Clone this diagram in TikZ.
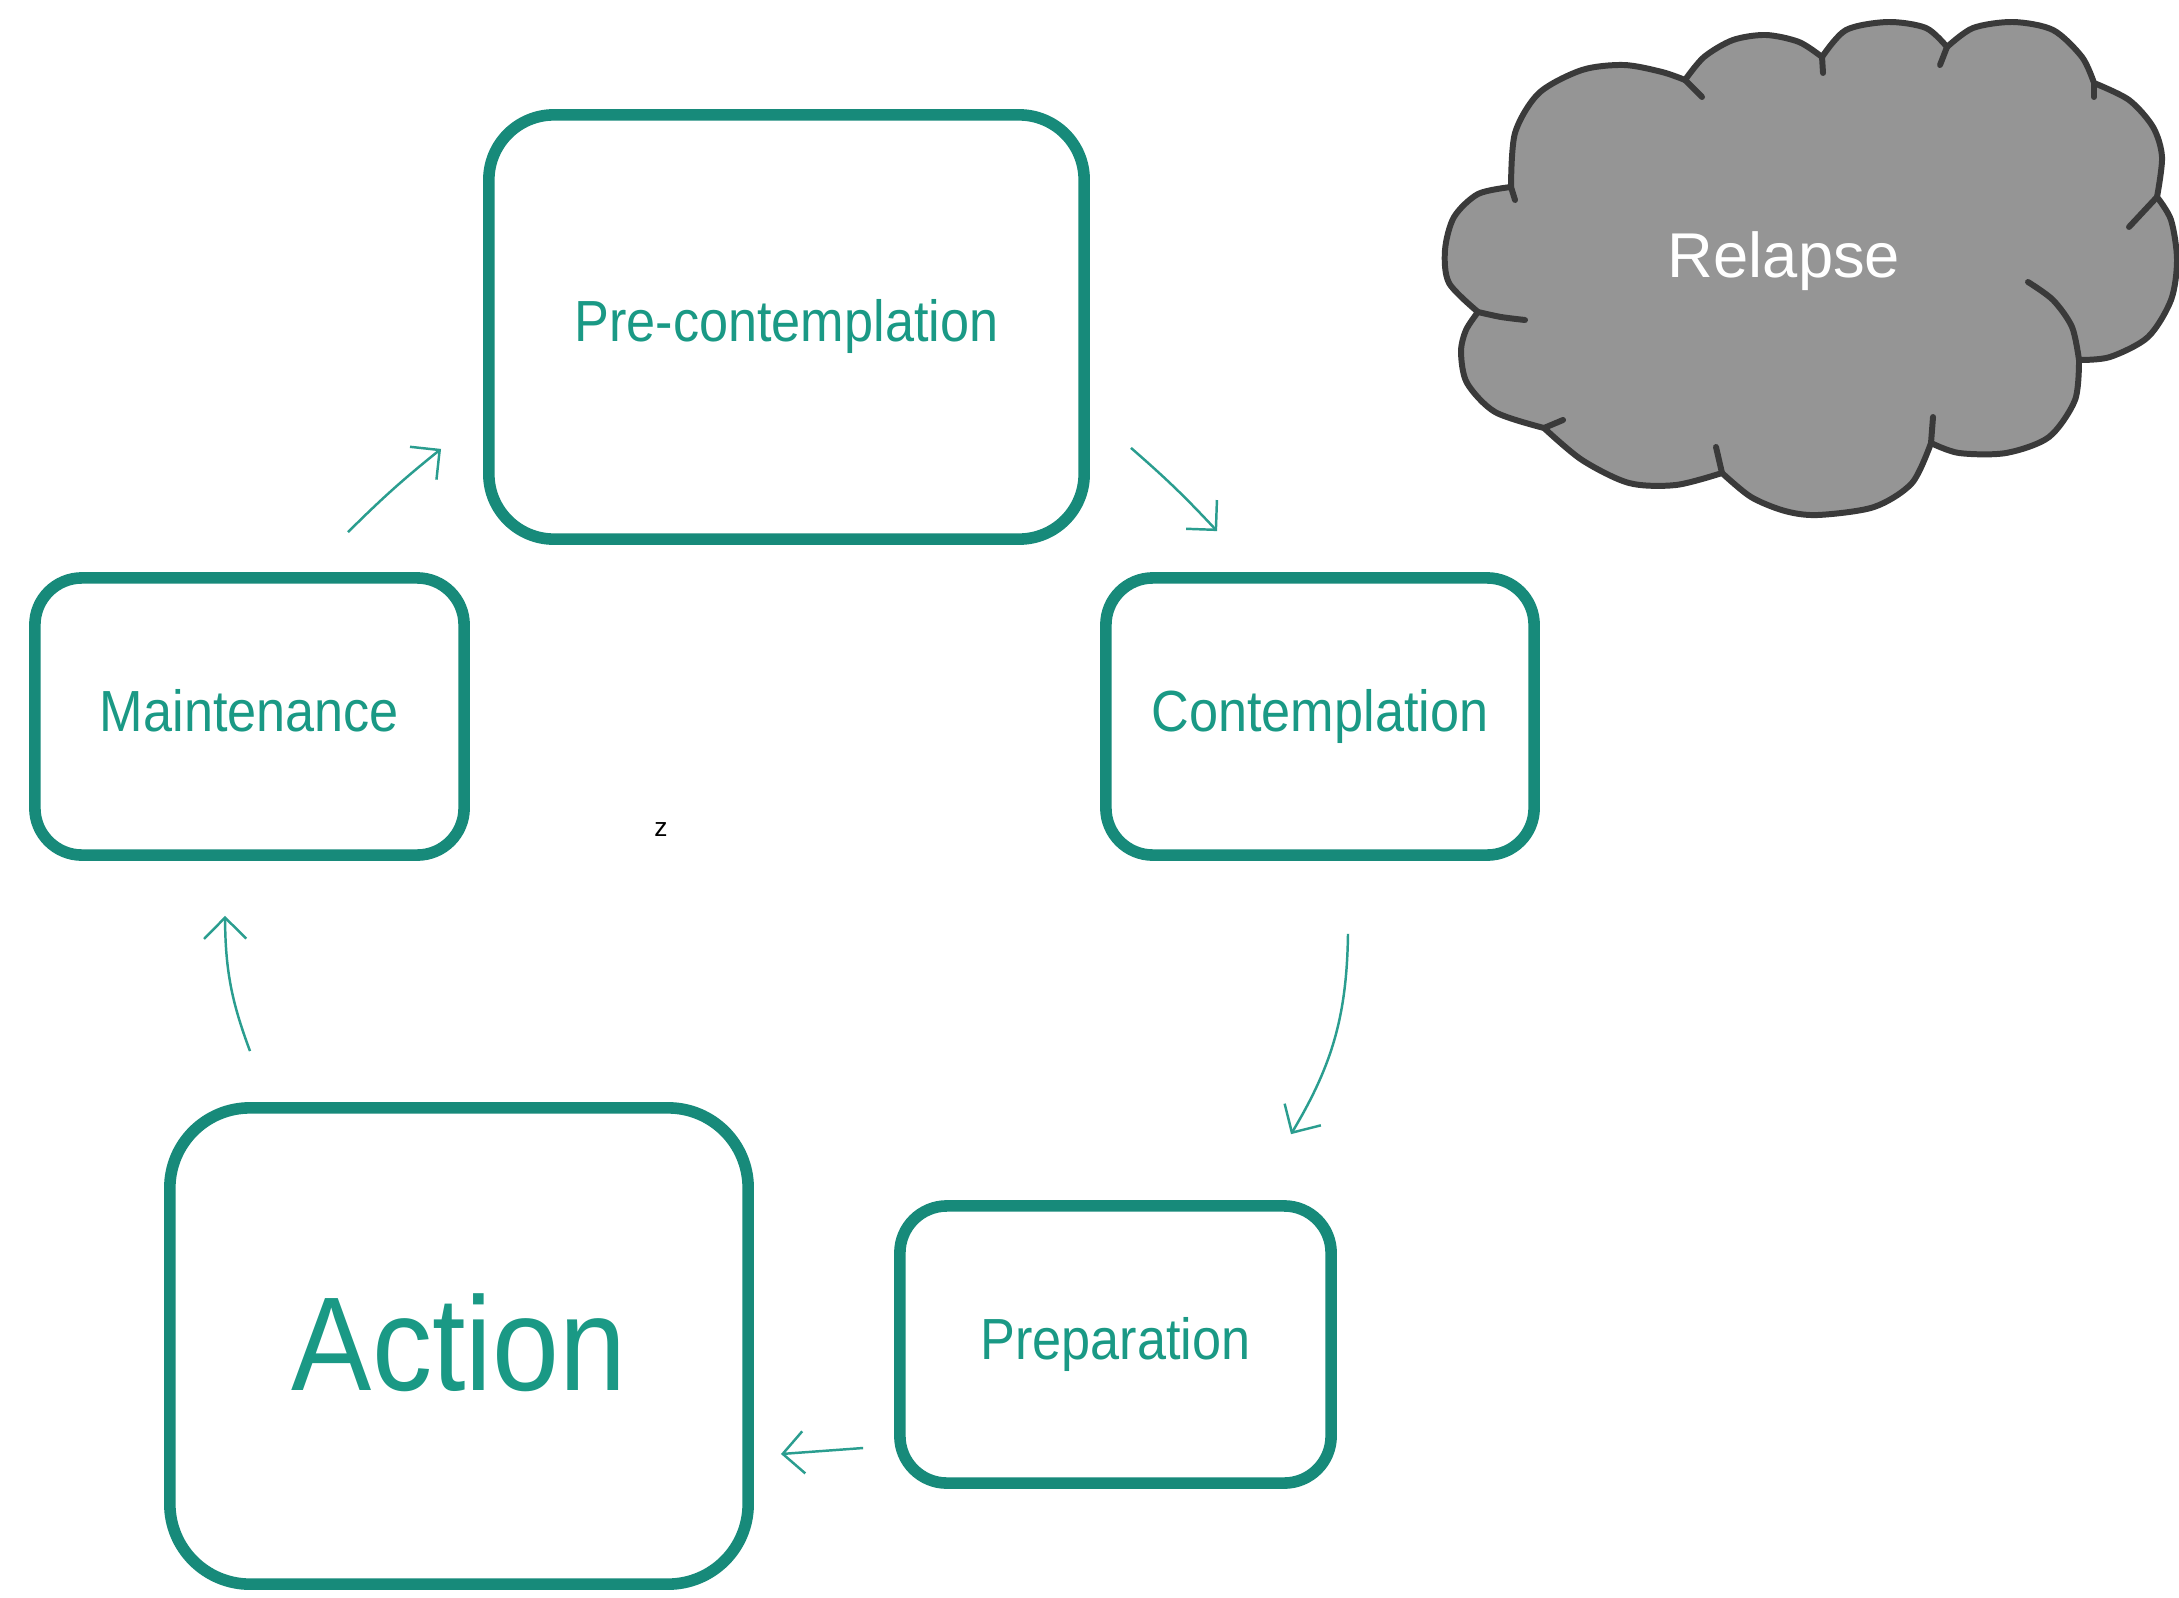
\documentclass[tikz,border=0pt]{standalone}
\usepackage{fontspec}
\setmainfont{Liberation Sans}
\newfontfamily\narrowsf{Liberation Sans}[FakeStretch=0.9]
\usetikzlibrary{arrows.meta,shadows}
\definecolor{tealline}{HTML}{178A7A}
\definecolor{tealtxt}{HTML}{1A9985}
\definecolor{tealarr}{HTML}{2A9D8F}
\definecolor{cloudfill}{HTML}{959595}
\definecolor{cloudline}{HTML}{3A3A3A}
\begin{document}
\begin{tikzpicture}[x=0.01cm,y=-0.01cm,
  stage/.style={draw=tealline, line width=3.3pt, fill=white, inner sep=0pt,
    text=tealtxt, font=\narrowsf\fontsize{16.5}{18}\selectfont,
    text height=11.9pt, text depth=3.5pt,
    drop shadow={shadow xshift=0.8pt, shadow yshift=-1.3pt, opacity=0.22}},
  arr/.style={draw=tealarr, line width=0.7pt, -{Straight Barb[length=6pt,width=12pt]}},
  cloudedge/.style={draw=cloudline, line width=1.7pt, line cap=round, line join=round}]
\useasboundingbox[fill=white] (0,0) rectangle (2179,1597);

% stages
\node[stage, minimum width=5.95cm, minimum height=4.24cm, rounded corners=0.65cm] (pre) at (786.5,327) {Pre-contemplation};
\node[stage, minimum width=4.29cm, minimum height=2.77cm, rounded corners=0.47cm] (maint) at (249.5,716.5) {Maintenance};
\node[stage, minimum width=4.28cm, minimum height=2.77cm, rounded corners=0.47cm] (cont) at (1320,716.5) {Contemplation};
\node[stage, minimum width=4.31cm, minimum height=2.77cm, rounded corners=0.47cm] (prep) at (1115.5,1344.5) {Preparation};
\node[stage, minimum width=5.78cm, minimum height=4.76cm, rounded corners=0.8cm,
  font=\narrowsf\fontsize{38}{40}\selectfont, text height=, text depth=] (action) at (459,1346) {\raisebox{2.3pt}{Action}};

% stray letter
\node[font=\fontsize{7.5}{8}\selectfont, text=black, inner sep=0pt] (zz) at (661,830) {z};

% connectors
\draw[arr] ([shift={(98.5,-40)}]maint.north) to[bend left=3] ([shift={(-42,-96)}]pre.south west);
\draw[arr] ([shift={(41,-97)}]pre.south east) to[bend left=3] ([shift={(117,-41)}]cont.north west);
\draw[arr] ([shift={(28,73)}]cont.south) to[bend left=15] ([shift={(175.5,-66)}]prep.north);
\draw[arr] ([shift={(-31,103.5)}]prep.west) to ([shift={(27,108)}]action.east);
\draw[arr] ([shift={(-209,-51)}]action.north) to[bend left=10] ([shift={(-24.5,55)}]maint.south);

% cloud junctions
\coordinate (J1) at (1511,187);
\coordinate (J2) at (1478,312);
\coordinate (J3) at (1544,428);
\coordinate (J4) at (1722,473);
\coordinate (J5) at (1931,443);
\coordinate (J6) at (2079,360);
\coordinate (J7) at (2157,197);
\coordinate (J8) at (2094,83);
\coordinate (J9) at (1947,47);
\coordinate (J10) at (1822,57);
\coordinate (J11) at (1685,80);

\path[cloudedge, fill=cloudfill]
  plot[smooth] coordinates {(J1) (1478,194) (1454,217) (1445,250) (1449,283) (J2)}
  -- plot[smooth] coordinates {(J2) (1466,330) (1461,352) (1467,383) (1495,412) (J3)}
  -- plot[smooth] coordinates {(J3) (1582,460) (1629,483) (1676,485) (J4)}
  -- plot[smooth] coordinates {(J4) (1751,497) (1785,511) (1818,515) (1874,507) (1912,483) (J5)}
  -- plot[smooth] coordinates {(J5) (1959,453) (2006,453) (2049,437) (2075,400) (J6)}
  -- plot[smooth] coordinates {(J6) (2110,357) (2148,337) (2171,300) (2177,260) (2171,220) (J7)}
  -- plot[smooth] coordinates {(J7) (2162,157) (2153,127) (2129,100) (J8)}
  -- plot[smooth] coordinates {(J8) (2082,57) (2053,30) (2013,22) (1973,28) (J9)}
  -- plot[smooth] coordinates {(J9) (1926,28) (1888,22) (1846,30) (J10)}
  -- plot[smooth] coordinates {(J10) (1799,42) (1766,35) (1733,40) (1704,57) (J11)}
  -- plot[smooth] coordinates {(J11) (1662,72) (1624,65) (1582,70) (1539,93) (1515,133) (J1)}
  -- cycle;
% inner puff strokes
\draw[cloudedge] (J1) -- (1515,200);
\draw[cloudedge] plot[smooth] coordinates {(J2) (1501,317) (1525,320)};
\draw[cloudedge] (J3) -- (1563,420);
\draw[cloudedge] plot[smooth] coordinates {(J4) (1719,460) (1716,447)};
\draw[cloudedge] (J5) -- (1933,417);
\draw[cloudedge] plot[smooth] coordinates {(J6) (2072,327) (2053,300) (2028,282)};
\draw[cloudedge] (J7) -- (2129,227);
\draw[cloudedge] (J8) -- (2094,97);
\draw[cloudedge] (J9) -- (1940,65);
\draw[cloudedge] (J10) -- (1823,73);
\draw[cloudedge] (J11) -- (1702,97);
\node[text=white, font=\fontsize{18}{20}\selectfont, inner sep=0pt] (relapse) at (1784,261) {Relapse};
\end{tikzpicture}
\end{document}
